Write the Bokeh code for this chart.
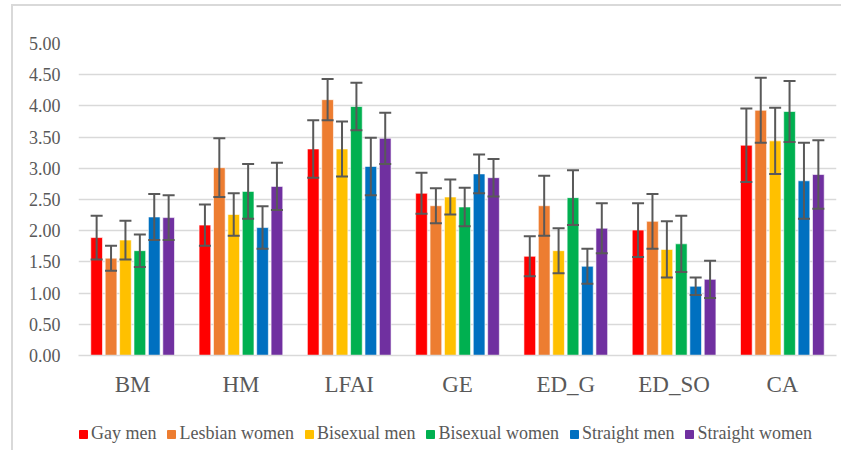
from bokeh.plotting import figure
from bokeh.layouts import column
from bokeh.models import (ColumnDataSource, FactorRange, Range1d, FixedTicker,
                          NumeralTickFormatter, Whisker, TeeHead, Legend, LegendItem)
from bokeh.transform import dodge
from bokeh.embed import file_html
from bokeh.resources import INLINE

categories = ["BM", "HM", "LFAI", "GE", "ED_G", "ED_SO", "CA"]
groups = ["Gay men", "Lesbian women", "Bisexual men", "Bisexual women",
          "Straight men", "Straight women"]
colors = ["#FF0000", "#ED7D31", "#FFC000", "#00B050", "#0070C0", "#7030A0"]

gay_men = [1.89, 2.09, 3.31, 2.60, 1.59, 2.01, 3.37]
lesbian_women = [1.56, 3.01, 4.10, 2.40, 2.40, 2.15, 3.93]
bisexual_men = [1.85, 2.26, 3.31, 2.54, 1.68, 1.70, 3.44]
bisexual_women = [1.68, 2.63, 3.99, 2.38, 2.53, 1.79, 3.91]
straight_men = [2.22, 2.05, 3.03, 2.91, 1.43, 1.11, 2.80]
straight_women = [2.21, 2.71, 3.48, 2.85, 2.04, 1.22, 2.90]

gay_men_err = [0.35, 0.33, 0.46, 0.33, 0.32, 0.43, 0.59]
lesbian_women_err = [0.20, 0.47, 0.33, 0.28, 0.48, 0.44, 0.52]
bisexual_men_err = [0.31, 0.34, 0.44, 0.28, 0.36, 0.45, 0.53]
bisexual_women_err = [0.26, 0.44, 0.38, 0.31, 0.44, 0.45, 0.49]
straight_men_err = [0.37, 0.34, 0.46, 0.31, 0.28, 0.14, 0.61]
straight_women_err = [0.36, 0.38, 0.41, 0.30, 0.40, 0.30, 0.55]

y_ticks = [0, 0.5, 1.0, 1.5, 2.0, 2.5, 3.0, 3.5, 4.0, 4.5, 5.0]

series = [gay_men, lesbian_women, bisexual_men, bisexual_women, straight_men, straight_women]
errors = [gay_men_err, lesbian_women_err, bisexual_men_err, bisexual_women_err,
          straight_men_err, straight_women_err]

FONT = "Liberation Serif"
GRAY = "#595959"
LINE = "#D9D9D9"

p = figure(width=841, height=418, output_backend="svg", toolbar_location=None,
           x_range=FactorRange(*categories), y_range=Range1d(0, 5),
           min_border_left=78, min_border_right=5, min_border_top=43,
           min_border_bottom=63)
p.x_range.range_padding = 0
p.outline_line_color = None
p.background_fill_color = "white"
p.border_fill_alpha = 0

pitch = 0.133
for i, (g, vals, errs, c) in enumerate(zip(groups, series, errors, colors)):
    src = ColumnDataSource(dict(cat=categories, v=vals,
                                up=[a + b for a, b in zip(vals, errs)],
                                lo=[a - b for a, b in zip(vals, errs)]))
    off = (i - 2.5) * pitch
    p.vbar(x=dodge("cat", off, range=p.x_range), top="v", width=0.108,
           source=src, fill_color=c, line_color="white", line_width=1,
           line_alpha=0.6)
    w = Whisker(base=dodge("cat", off, range=p.x_range), upper="up", lower="lo",
                source=src, line_color=GRAY, line_width=2, level="overlay",
                upper_head=TeeHead(size=12, line_color=GRAY, line_width=2),
                lower_head=TeeHead(size=12, line_color=GRAY, line_width=2))
    p.add_layout(w)

p.yaxis.ticker = FixedTicker(ticks=y_ticks)
p.yaxis.formatter = NumeralTickFormatter(format="0.00")
p.yaxis.axis_line_color = None
p.yaxis.major_tick_line_color = None
p.yaxis.minor_tick_line_color = None
p.yaxis.major_label_text_font = FONT
p.yaxis.major_label_text_font_size = "18px"
p.yaxis.major_label_text_color = GRAY
p.yaxis.major_label_standoff = 12

p.xaxis.axis_line_color = LINE
p.xaxis.axis_line_width = 1.5
p.xaxis.major_tick_line_color = None
p.xaxis.minor_tick_line_color = None
p.xaxis.major_label_text_font = FONT
p.xaxis.major_label_text_font_size = "23px"
p.xaxis.major_label_text_color = GRAY
p.xaxis.major_label_standoff = 10

p.xgrid.grid_line_color = None
p.ygrid.ticker = FixedTicker(ticks=y_ticks)
p.ygrid.grid_line_color = LINE
p.ygrid.grid_line_width = 1.5

# legend strip: key renderers sit outside the strip's visible range
lg = figure(width=841, height=32, output_backend="svg", toolbar_location=None,
            x_range=Range1d(-20, -19), y_range=Range1d(0, 1),
            x_axis_location=None, y_axis_location=None,
            min_border_left=0, min_border_right=0, min_border_top=0,
            min_border_bottom=0)
lg.outline_line_color = None
lg.grid.grid_line_color = None
lg.background_fill_alpha = 0
lg.border_fill_alpha = 0
items = []
for i, (g, c) in enumerate(zip(groups, colors)):
    ksrc = ColumnDataSource(dict(x=[i], top=[0]))
    r = lg.vbar(x="x", top="top", width=0.1, source=ksrc,
                fill_color=c, line_color=c)
    items.append(LegendItem(label=g, renderers=[r]))
legend = Legend(items=items, orientation="horizontal", location=(0, 6),
                glyph_width=10, glyph_height=10, label_standoff=3, spacing=10,
                padding=0, margin=0, border_line_color=None,
                background_fill_alpha=0,
                label_text_font=FONT, label_text_font_size="18px",
                label_text_color=GRAY)
lg.add_layout(legend)

layout = column(p, lg, spacing=0)
layout.styles = {
    "background-color": "white",
    "background-image": f"linear-gradient({LINE},{LINE}), linear-gradient({LINE},{LINE})",
    "background-size": "2px 100%, 100% 2px",
    "background-position": "11px 4px, 11px 4px",
    "background-repeat": "no-repeat",
}

open("out.html", "w").write(file_html(layout, INLINE))
